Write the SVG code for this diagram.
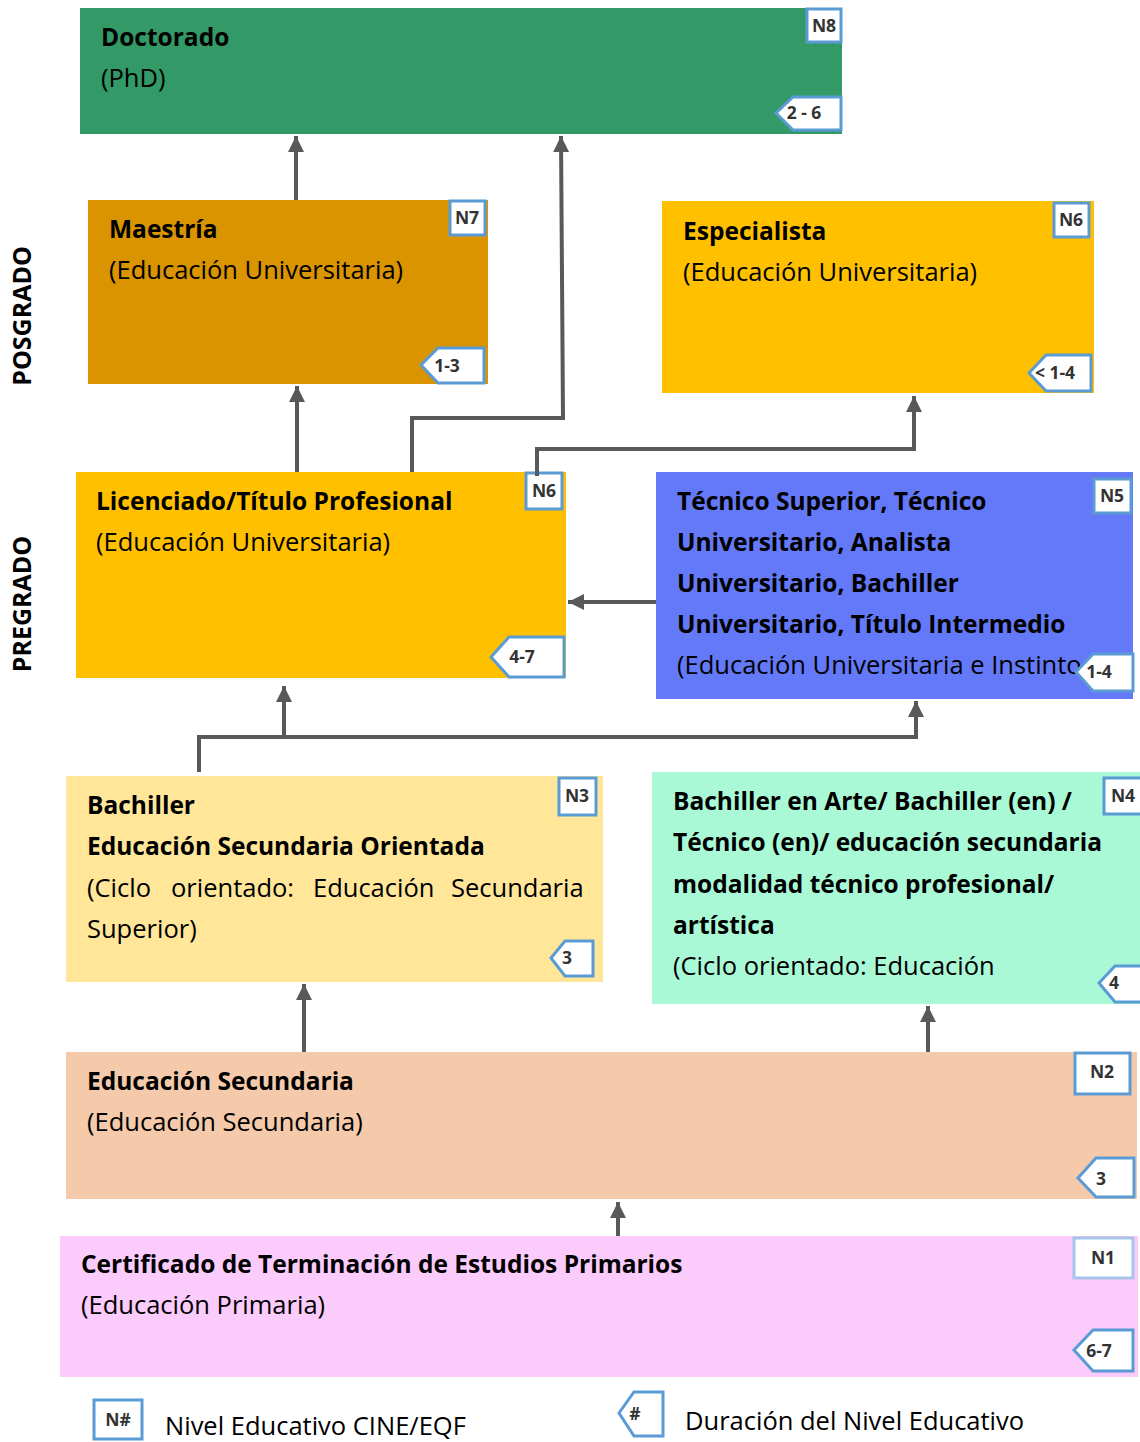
<svg xmlns="http://www.w3.org/2000/svg" width="1140" height="1442" viewBox="0 0 1140 1442">
<defs>
<marker id="ah" markerUnits="userSpaceOnUse" markerWidth="18" markerHeight="18" viewBox="0 0 18 18" refX="16" refY="9" orient="auto">
<path d="M0,1 L16,9 L0,17 Z" fill="#595959"/>
</marker>
</defs>
<style>
.t{font-family:"Open Sans","Liberation Sans",sans-serif;font-size:25.5px;fill:#000}
.b{font-weight:bold;font-size:24.5px}
.bd{fill:#fff;stroke:#5B9BD5;stroke-width:3}
.bt{font-family:"Open Sans","Liberation Sans",sans-serif;font-size:17.5px;font-weight:bold;fill:#333;text-anchor:middle}
.c{fill:none;stroke:#595959;stroke-width:4}
.side{font-family:"Open Sans","Liberation Sans",sans-serif;font-size:25px;font-weight:bold;fill:#000;text-anchor:middle}
</style>
<rect width="1140" height="1442" fill="#fff"/>

<g id="n8">
<rect x="80" y="8" width="762" height="126" fill="#339966"/>
<text class="t b" x="101" y="46">Doctorado</text>
<text class="t" x="101" y="87">(PhD)</text>
<rect class="bd" x="807" y="9" width="34" height="33"/>
<text class="bt" x="824" y="32">N8</text>
<polygon class="bd" points="776,113 793,97 841,97 841,130 793,130"/>
<text class="bt" x="804" y="119">2 - 6</text>
</g>

<g id="n7">
<rect x="88" y="200" width="400" height="184" fill="#DA9400"/>
<text class="t b" x="109" y="238">Maestría</text>
<text class="t" x="109" y="279">(Educación Universitaria)</text>
<rect class="bd" x="450" y="201" width="35" height="34"/>
<text class="bt" x="467" y="224">N7</text>
<polygon class="bd" points="421,365 438,348 484,348 484,383 438,383"/>
<text class="bt" x="447" y="372">1-3</text>
</g>

<g id="n6a">
<rect x="662" y="201" width="432" height="192" fill="#FFC000"/>
<text class="t b" x="683" y="240">Especialista</text>
<text class="t" x="683" y="281">(Educación Universitaria)</text>
<rect class="bd" x="1054" y="203" width="35" height="34"/>
<text class="bt" x="1071" y="226">N6</text>
<polygon class="bd" points="1029,373 1046,355 1091,355 1091,391 1046,391"/>
<text class="bt" x="1055" y="379">&lt; 1-4</text>
</g>

<g id="n6b">
<rect x="76" y="472" width="490" height="206" fill="#FFC000"/>
<text class="t b" x="96" y="510">Licenciado/Título Profesional</text>
<text class="t" x="96" y="551">(Educación Universitaria)</text>
<rect class="bd" x="526" y="473" width="36" height="36"/>
<text class="bt" x="544" y="497">N6</text>
<polygon class="bd" points="491,657 509,637 564,637 564,677 509,677"/>
<text class="bt" x="522" y="663">4-7</text>
</g>

<g id="n5">
<rect x="656" y="472" width="477" height="227" fill="#6379F7"/>
<text class="t b" x="677" y="510">Técnico Superior, Técnico</text>
<text class="t b" x="677" y="551">Universitario, Analista</text>
<text class="t b" x="677" y="592">Universitario, Bachiller</text>
<text class="t b" x="677" y="633">Universitario, Título Intermedio</text>
<text class="t" x="677" y="674">(Educación Universitaria e Instinto</text>
<rect class="bd" x="1094" y="479" width="37" height="34"/>
<text class="bt" x="1112" y="502">N5</text>
<polygon class="bd" points="1076,672 1093,654 1133,654 1133,691 1093,691"/>
<text class="bt" x="1099" y="678">1-4</text>
</g>

<g id="n3">
<rect x="66" y="776" width="537" height="206" fill="#FFE699"/>
<text class="t b" x="87" y="814">Bachiller</text>
<text class="t b" x="87" y="855">Educación Secundaria Orientada</text>
<text class="t" y="897"><tspan x="87">(Ciclo</tspan><tspan x="171">orientado:</tspan><tspan x="313">Educación</tspan><tspan x="451">Secundaria</tspan></text>
<text class="t" x="87" y="938">Superior)</text>
<rect class="bd" x="559" y="778" width="37" height="37"/>
<text class="bt" x="577" y="802">N3</text>
<polygon class="bd" points="551,958 565,941 593,941 593,976 565,976"/>
<text class="bt" x="567" y="964">3</text>
</g>

<g id="n4">
<rect x="652" y="772" width="488" height="232" fill="#A9F9D6"/>
<text class="t b" x="673" y="810">Bachiller en Arte/ Bachiller (en) /</text>
<text class="t b" x="673" y="851">Técnico (en)/ educación secundaria</text>
<text class="t b" x="673" y="893">modalidad técnico profesional/</text>
<text class="t b" x="673" y="934">artística</text>
<text class="t" x="673" y="975">(Ciclo orientado: Educación</text>
<rect class="bd" x="1104" y="778" width="40" height="36"/>
<text class="bt" x="1123" y="802">N4</text>
<polygon class="bd" points="1099,983 1115,966 1144,966 1144,1002 1115,1002"/>
<text class="bt" x="1114" y="989">4</text>
</g>

<g id="n2">
<rect x="66" y="1052" width="1071" height="147" fill="#F5CAAA"/>
<text class="t b" x="87" y="1090">Educación Secundaria</text>
<text class="t" x="87" y="1131">(Educación Secundaria)</text>
<rect class="bd" x="1075" y="1053" width="55" height="41"/>
<text class="bt" x="1102" y="1078">N2</text>
<polygon class="bd" points="1078,1178 1096,1158 1134,1158 1134,1197 1096,1197"/>
<text class="bt" x="1101" y="1185">3</text>
</g>

<g id="n1">
<rect x="60" y="1236" width="1078" height="141" fill="#FBCBFB"/>
<text class="t b" x="81" y="1273">Certificado de Terminación de Estudios Primarios</text>
<text class="t" x="81" y="1314">(Educación Primaria)</text>
<rect class="bd" x="1074" y="1238" width="59" height="40" style="stroke:#A9C4EB"/>
<text class="bt" x="1103" y="1264">N1</text>
<polygon class="bd" points="1074,1350 1093,1330 1133,1330 1133,1371 1093,1371"/>
<text class="bt" x="1099" y="1357">6-7</text>
</g>

<g id="connectors">
<path class="c" d="M296,200 V136" marker-end="url(#ah)"/>
<path class="c" d="M412,472 V418 H563 L561,136" marker-end="url(#ah)"/>
<path class="c" d="M297,472 V386" marker-end="url(#ah)"/>
<path class="c" d="M537,476 V449 H914 V396" marker-end="url(#ah)"/>
<path class="c" d="M656,602 H568" marker-end="url(#ah)"/>
<path class="c" d="M199,772 V737 H916 V701" marker-end="url(#ah)"/>
<path class="c" d="M284,737 V686" marker-end="url(#ah)"/>
<path class="c" d="M304,1052 V984" marker-end="url(#ah)"/>
<path class="c" d="M928,1052 V1006" marker-end="url(#ah)"/>
<path class="c" d="M618,1236 V1202" marker-end="url(#ah)"/>
</g>

<g id="labels">
<text class="side" transform="translate(31,316) rotate(-90)">POSGRADO</text>
<text class="side" transform="translate(31,604) rotate(-90)">PREGRADO</text>
</g>

<g id="legend">
<rect class="bd" x="94" y="1400" width="48" height="39"/>
<text class="bt" x="118" y="1426">N#</text>
<text class="t" x="165" y="1435">Nivel Educativo CINE/EQF</text>
<polygon class="bd" points="619,1413 634,1392 663,1392 663,1436 634,1436"/>
<text class="bt" x="635" y="1420">#</text>
<text class="t" x="685" y="1430">Duración del Nivel Educativo</text>
</g>
</svg>
